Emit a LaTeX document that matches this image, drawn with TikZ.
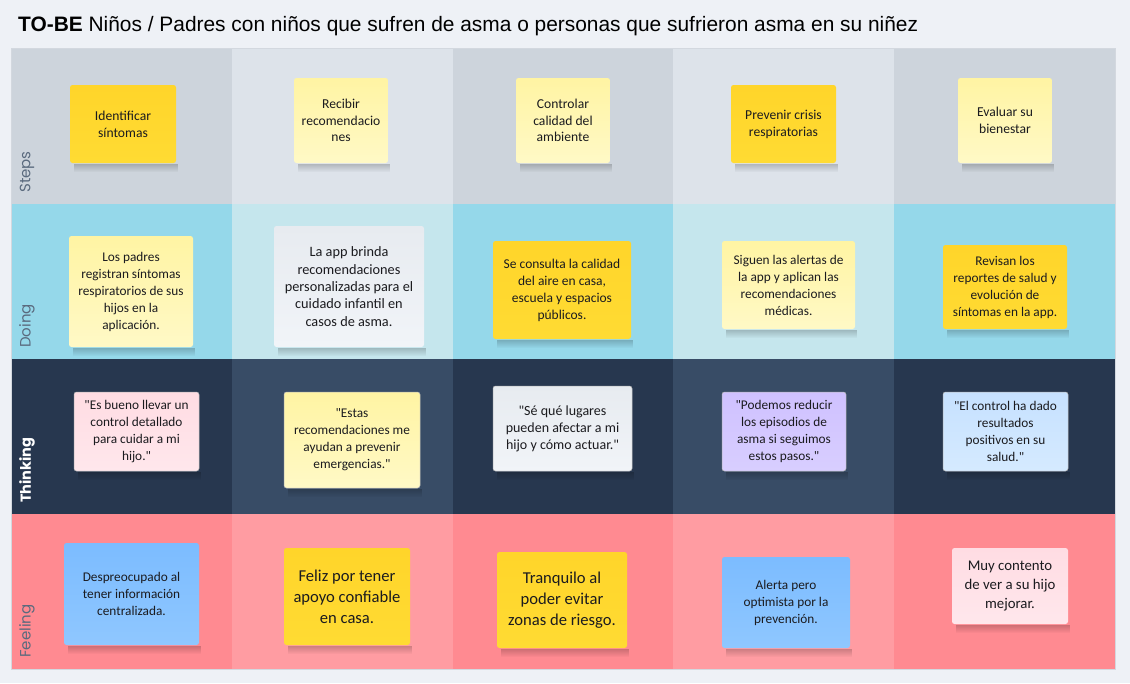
\documentclass[tikz,border=0pt]{standalone}
\usepackage{fontspec}
\setmainfont{Carlito}[Ligatures=TeXOff]
\newfontfamily\titlefont{Liberation Sans}
\newfontfamily\lanefont{Poppins}
\usetikzlibrary{fadings}

% page and lane colours
\definecolor{pagebg}{HTML}{EEF1F6}
\definecolor{stepsA}{HTML}{CDD4DC}
\definecolor{stepsB}{HTML}{DDE3EA}
\definecolor{doingA}{HTML}{95D8EA}
\definecolor{doingB}{HTML}{C5E6ED}
\definecolor{thinkA}{HTML}{27374F}
\definecolor{thinkB}{HTML}{384C66}
\definecolor{feelA}{HTML}{FF8A91}
\definecolor{feelB}{HTML}{FF9CA2}
\definecolor{gridline}{HTML}{D3D8DF}
% sticky-note colours
\definecolor{ydarkT}{HTML}{FFD52A}
\definecolor{ydarkB}{HTML}{FFDB33}
\definecolor{ylightT}{HTML}{FFF4A3}
\definecolor{ylightB}{HTML}{FFF9C6}
\definecolor{greyT}{HTML}{E7EBF0}
\definecolor{greyB}{HTML}{F1F4F8}
\definecolor{pinkT}{HTML}{FFDCE3}
\definecolor{pinkB}{HTML}{FFE7EC}
\definecolor{lilacT}{HTML}{CFC1FF}
\definecolor{lilacB}{HTML}{D8CEFF}
\definecolor{skyT}{HTML}{C6E1FF}
\definecolor{skyB}{HTML}{D5EAFF}
\definecolor{blueT}{HTML}{7CBCFF}
\definecolor{blueB}{HTML}{8FC7FF}
\definecolor{notetext}{HTML}{1B1B1F}
\definecolor{laneGrey}{HTML}{5A6A7E}

% soft band of shade under each sticky note
\tikzfading[name=notefade, top color=transparent!0, bottom color=transparent!100]

\tikzset{
  note/.style={rectangle, rounded corners=2.5pt, align=center, inner sep=0pt,
    text=notetext, font=\fontsize{13.3}{17}\selectfont},
  ydark/.style={top color=ydarkT, bottom color=ydarkB},
  ylight/.style={top color=ylightT, bottom color=ylightB},
  grey/.style={top color=greyT, bottom color=greyB},
  pinknote/.style={top color=pinkT, bottom color=pinkB},
  lilac/.style={top color=lilacT, bottom color=lilacB},
  sky/.style={top color=skyT, bottom color=skyB},
  bluenote/.style={top color=blueT, bottom color=blueB},
  rimmed/.style={draw=black!28, line width=0.5pt},
  noteshade/.style={fill=black, opacity=0.2, path fading=notefade},
  lanelabel/.style={rotate=90, anchor=west, inner sep=0pt,
    font=\lanefont\fontsize{15}{18}\selectfont},
}

\begin{document}
\begin{tikzpicture}[x=1pt, y=-1pt]
\fill[pagebg] (0,0) rectangle (1130,683);
\useasboundingbox (0,0) rectangle (1130,683);

% title
\node[anchor=base west, inner sep=0pt, text=black,
  font=\titlefont\fontsize{20.9}{24}\selectfont] (title) at (18,31)
  {\textbf{TO-BE} Niños / Padres con niños que sufren de asma o personas que sufrieron asma en su niñez};

% swim lanes: four rows, five columns with alternating shades
\foreach \top/\bot/\ca/\cb in {48/204/stepsA/stepsB, 204/359/doingA/doingB,
                                359/514/thinkA/thinkB, 514/669/feelA/feelB}{
  \foreach \c in {0,...,4}{
    \pgfmathsetmacro{\xa}{11+220.8*\c}
    \pgfmathsetmacro{\xb}{11+220.8*(\c+1)}
    \ifodd\c
      \fill[\cb] (\xa,\top) rectangle (\xb,\bot);
    \else
      \fill[\ca] (\xa,\top) rectangle (\xb,\bot);
    \fi
  }
}
\draw[gridline, line width=0.8pt] (11,48) rectangle (1115,669);

% lane labels
\node[lanelabel, text=laneGrey] (lsteps) at (27,193) {Steps};
\node[lanelabel, text=laneGrey] (ldoing) at (27,348) {Doing};
\node[lanelabel, text=white, font=\lanefont\bfseries\fontsize{14.5}{18}\selectfont] (lthink) at (27,503) {Thinking};
\node[lanelabel, text=laneGrey] (lfeel) at (27,658) {Feeling};

% Steps
\node[note, ydark, minimum width=106pt, minimum height=78pt, font=\fontsize{13.6}{17}\selectfont] (s1) at (123,124) {Identificar\\síntomas};
\node[note, ylight, minimum width=94pt, minimum height=85pt, font=\fontsize{13.6}{16.5}\selectfont] (s2) at (341,120.5) {Recibir\\recomendacio\\nes};
\node[note, ylight, minimum width=94pt, minimum height=85pt, font=\fontsize{13.6}{16.5}\selectfont] (s3) at (563,120.5) {Controlar\\calidad del\\ambiente};
\node[note, ydark, minimum width=105pt, minimum height=78pt, font=\fontsize{13.6}{17}\selectfont] (s4) at (783.5,124) {Prevenir crisis\\respiratorias};
\node[note, ylight, minimum width=94pt, minimum height=85pt, font=\fontsize{13.6}{17}\selectfont] (s5) at (1005,120.5) {Evaluar su\\bienestar};

% Doing
\node[note, ylight, minimum width=124pt, minimum height=111pt] (d1) at (131,291.5) {Los padres\\registran síntomas\\respiratorios de sus\\hijos en la\\aplicación.};
\node[note, grey, minimum width=150pt, minimum height=121pt, font=\fontsize{14.3}{17.4}\selectfont] (d2) at (349,286.5) {La app brinda\\recomendaciones\\personalizadas para el\\cuidado infantil en\\casos de asma.};
\node[note, ydark, minimum width=138pt, minimum height=98pt, font=\fontsize{13.5}{17}\selectfont] (d3) at (562,290) {Se consulta la calidad\\del aire en casa,\\escuela y espacios\\públicos.};
\node[note, ylight, minimum width=133pt, minimum height=88pt] (d4) at (788.5,285) {Siguen las alertas de\\la app y aplican las\\recomendaciones\\médicas.};
\node[note, ydark, minimum width=124pt, minimum height=84pt] (d5) at (1005,287) {Revisan los\\reportes de salud y\\evolución de\\síntomas en la app.};

% Thinking
\node[note, pinknote, rimmed, minimum width=125pt, minimum height=79pt] (t1) at (136.5,431.5) {"Es bueno llevar un\\control detallado\\para cuidar a mi\\hijo."};
\node[note, ylight, rimmed, minimum width=136pt, minimum height=96pt] (t2) at (352,440) {"Estas\\recomendaciones me\\ayudan a prevenir\\emergencias."};
\node[note, grey, rimmed, minimum width=139pt, minimum height=85pt, font=\fontsize{14}{17}\selectfont] (t3) at (562.5,428.5) {"Sé qué lugares\\pueden afectar a mi\\hijo y cómo actuar."};
\node[note, lilac, rimmed, minimum width=124pt, minimum height=79pt] (t4) at (784,431.5) {"Podemos reducir\\los episodios de\\asma si seguimos\\estos pasos."};
\node[note, sky, rimmed, minimum width=125pt, minimum height=79pt] (t5) at (1005.5,431.5) {"El control ha dado\\resultados\\positivos en su\\salud."};

% Feeling
\node[note, bluenote, minimum width=135pt, minimum height=102pt, font=\fontsize{13.3}{16.7}\selectfont] (f1) at (131.5,594) {Despreocupado al\\tener información\\centralizada.};
\node[note, ydark, minimum width=126pt, minimum height=97pt, font=\fontsize{16.6}{21}\selectfont] (f2) at (347,596.5) {Feliz por tener\\apoyo confiable\\en casa.};
\node[note, ydark, minimum width=130pt, minimum height=96pt, font=\fontsize{16.6}{21}\selectfont] (f3) at (562,600) {Tranquilo al\\poder evitar\\zonas de riesgo.};
\node[note, bluenote, minimum width=128pt, minimum height=91pt, font=\fontsize{13.3}{17}\selectfont] (f4) at (786,602.5) {Alerta pero\\optimista por la\\prevención.};
\node[note, pinknote, minimum width=116pt, minimum height=76pt, font=\fontsize{14.8}{19}\selectfont] (f5) at (1010,586) {Muy contento\\de ver a su hijo\\mejorar.};

% shade under the notes
\foreach \n in {s1,s2,s3,s4,s5,d1,d2,d3,d4,d5,t1,t2,t3,t4,t5,f1,f2,f3,f4,f5}{
  \fill[noteshade] ([xshift=4pt, yshift=-0.5pt]\n.south west) rectangle ([xshift=2pt, yshift=-9pt]\n.south east);
}
\end{tikzpicture}
\end{document}
